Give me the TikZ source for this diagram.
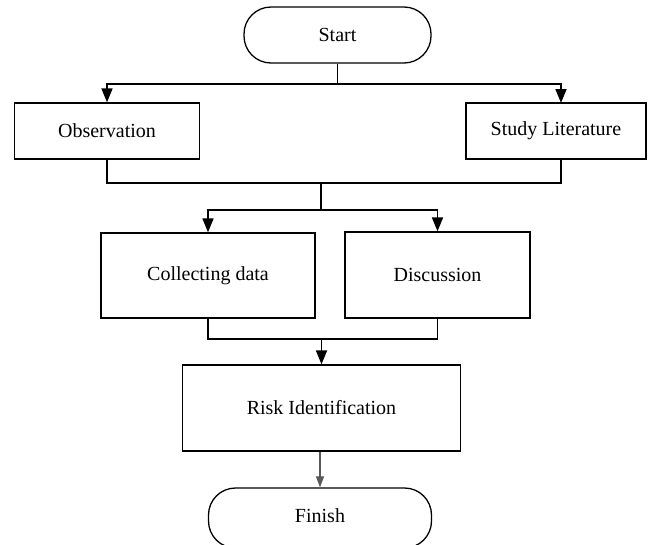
\documentclass[tikz,border=0pt]{standalone}
\usepackage{fontspec}
\setmainfont{Liberation Serif}
\usetikzlibrary{arrows.meta}
\begin{document}
\begin{tikzpicture}[x=1pt,y=-1pt,
  box/.style={draw=black,line width=1.3pt,rectangle,font=\fontsize{20}{23}\selectfont,inner sep=0pt},
  term/.style={box,rounded corners=27pt},
  conn/.style={draw=black,line width=1.7pt},
  arr/.style={conn,-{Triangle[length=14pt,width=11pt]}},
  thinarr/.style={draw=black!65,line width=1.1pt,-{Triangle[length=11pt,width=8pt]}}]
\useasboundingbox (0,0) rectangle (650,544);
\node[term,minimum width=187pt,minimum height=56pt] (start) at (337.5,35) {Start};
\node[box,minimum width=185pt,minimum height=56pt] (obs) at (107,131) {Observation};
\node[box,minimum width=180pt,minimum height=56pt] (lit) at (556,131) {Study Literature};
\node[box,minimum width=214pt,minimum height=85pt] (col) at (208,275.5) {Collecting data};
\node[box,minimum width=185pt,minimum height=86pt] (dis) at (437.5,275) {Discussion};
\node[box,minimum width=278pt,minimum height=86pt] (risk) at (321.5,408) {Risk Identification};
\node[term,minimum width=223pt,minimum height=60pt] (fin) at (320,518) {};
\node[font=\fontsize{20}{23}\selectfont,inner sep=0pt] (fint) at (320,516) {Finish};
\coordinate (j1) at (337.5,84);
\coordinate (litT) at (561,103);
\coordinate (litB) at (561,159);
\coordinate (j2) at (321,183);
\coordinate (j3) at (321,210);
\coordinate (j4) at (321.5,339);
\draw[conn] (start.south) -- (j1);
\draw[arr] (j1) -| (obs.north);
\draw[arr] (j1) -| (litT);
\draw[conn] (obs.south) |- (j2) -| (litB);
\draw[conn] (j2) -- (j3);
\draw[arr] (j3) -| (col.north);
\draw[arr] (j3) -| (dis.north);
\draw[conn] (col.south) |- (j4) -| (dis.south);
\draw[arr] (j4) -- (risk.north);
\draw[thinarr] (risk.south -| fin.north) -- (fin.north);
\end{tikzpicture}
\end{document}
